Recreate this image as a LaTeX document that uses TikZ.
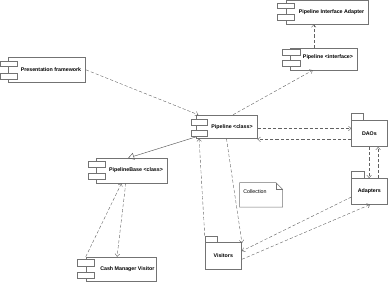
\documentclass[tikz,border=0pt]{standalone}
\usepackage{fontspec}
\setmainfont{Liberation Sans}
\usetikzlibrary{arrows.meta,fit,calc}
\tikzset{
  box/.style={draw=black!55, fill=white, line width=0.5pt, inner sep=0pt},
  port/.style={draw=black!55, fill=white, line width=0.5pt, inner sep=0pt},
  lbl/.style={font=\fontsize{5.3}{6}\selectfont\bfseries, inner sep=0pt},
  nlbl/.style={font=\fontsize{5.3}{6}\selectfont, inner sep=0pt},
  dep/.style={draw=black!62, line width=0.4pt, dash pattern=on 3.2pt off 2pt,
    -{Straight Barb[length=2.6pt,width=4.6pt,line width=0.4pt]}},
  gen/.style={draw=black!65, line width=0.45pt,
    -{Triangle[open,length=6pt,width=7pt,line width=0.45pt]}},
}
\begin{document}
\begin{tikzpicture}[x=1pt,y=-1pt]
\useasboundingbox (0,0) rectangle (388,282);
% Pipeline Interface Adapter
\node[box, fit={(286.7,0.6)(368.3,24.2)}] (pia) {};
\node[port, fit={(277.5,2.8)(294,7.8)}] (piap1) {};
\node[port, fit={(277.5,14.4)(294,20.6)}] (piap2) {};
\node[lbl] (piat) at (331.5,12.5) {Pipeline Interface Adapter};
% Pipeline <interface>
\node[box, fit={(290.7,48.3)(357.3,70)}] (pint) {};
\node[port, fit={(282.7,49.5)(300,55)}] (pintp1) {};
\node[port, fit={(282.7,60)(300,66)}] (pintp2) {};
\node[lbl] (pintt) at (328,57.5) {Pipeline <interface>};
% Presentation framework
\node[box, fit={(8.3,57.7)(85.7,82)}] (pf) {};
\node[port, fit={(0.5,61)(17.3,66)}] (pfp1) {};
\node[port, fit={(0.5,73)(17.3,79)}] (pfp2) {};
\node[lbl] (pft) at (51,69.8) {Presentation framework};
% Pipeline <class>
\node[box, fit={(196,115)(257.3,138.3)}] (pc) {};
\node[port, fit={(191,119)(207.3,125)}] (pcp1) {};
\node[port, fit={(191,130.5)(207.3,136.5)}] (pcp2) {};
\node[lbl] (pct) at (232,127) {Pipeline <class>};
% PipelineBase <class>
\node[box, fit={(96.7,158.3)(167.3,183)}] (pb) {};
\node[port, fit={(88.3,161.7)(105.7,167.7)}] (pbp1) {};
\node[port, fit={(88.3,173.7)(105.7,179.7)}] (pbp2) {};
\node[lbl] (pbt) at (136,170.5) {PipelineBase <class>};
% Cash Manager Visitor
\node[box, fit={(86,257)(156.7,281)}] (cmv) {};
\node[port, fit={(77.7,259.3)(94.3,266)}] (cmvp1) {};
\node[port, fit={(77.7,272.7)(94.3,278.3)}] (cmvp2) {};
\node[lbl] (cmvt) at (127.3,268.8) {Cash Manager Visitor};
% DAOs
\node[box, fit={(363.3,113.3)(351.6,120)}] (daotab) {};
\node[box, fit={(351.6,120)(387.3,146.7)}] (dao) {};
\node[lbl] (daot) at (369.4,133.4) {DAOs};
% Adapters
\node[box, fit={(351.6,171.2)(364,178.3)}] (adptab) {};
\node[box, fit={(351.6,178.3)(387.3,204.3)}] (adp) {};
\node[lbl] (adpt) at (369.4,191.2) {Adapters};
% Visitors
\node[box, fit={(205,236)(217.3,242.7)}] (vistab) {};
\node[box, fit={(205,242.7)(241.7,269.3)}] (vis) {};
\node[lbl] (vist) at (223.3,256) {Visitors};
% Collection note
\node[inner sep=0pt, fit={(239.7,182.7)(282.3,207)}] (coll) {};
\draw[draw=black!55, fill=white, line width=0.5pt]
  (coll.north west) -- ([xshift=-6.7pt]coll.north east) -- ([yshift=-6.7pt]coll.north east)
  -- (coll.south east) -- (coll.south west) -- cycle;
\draw[draw=black!55, line width=0.5pt]
  ([xshift=-6.7pt]coll.north east) -- ([xshift=-6.7pt,yshift=-6.7pt]coll.north east)
  -- ([yshift=-6.7pt]coll.north east);
\node[nlbl] (collt) at (255,191.7) {Collection};
% connectors
\draw[dep] (pf.east) -- ([xshift=2.5pt]pc.north west);
\draw[dep] ([xshift=37.3pt]pc.north west) -- ([xshift=22.3pt]pint.south west);
\draw[dep] ([xshift=23.3pt]pint.north west) -- ([xshift=27.3pt]pia.south west);
\draw[dep] ([yshift=-1.8pt]pc.east) -- ([yshift=-1.8pt]pc.east -| dao.west);
\draw[dep] ([yshift=7.6pt]dao.south west) -- ([yshift=7.6pt]dao.south west -| pc.east);
\draw[dep] ([xshift=17.8pt]dao.south west) -- ([xshift=17.8pt]adptab.north west |- adp.north);
\draw[dep] ([xshift=26.8pt]adp.north west) -- ([xshift=26.8pt]dao.south west);
\draw[dep] ([yshift=-5.7pt]adp.west) -- ([yshift=5pt]vis.east);
\draw[dep] ([yshift=-3.3pt]vis.east) -- ([xshift=18.7pt]adp.south west);
\draw[dep] (vistab.north west) -- ([xshift=3.3pt]pc.south west);
\draw[dep] ([xshift=30.7pt]pc.south west) -- ([yshift=-0.5pt]vis.north east);
\draw[gen] ([yshift=1.6pt]pc.south west) -- ([xshift=31.6pt]pb.north west);
\draw[dep] (cmv.north west) -- ([xshift=25pt]pb.south west);
\draw[dep] ([xshift=29.3pt]pb.south west) -- ([xshift=31.3pt]cmv.north west);
\end{tikzpicture}
\end{document}
